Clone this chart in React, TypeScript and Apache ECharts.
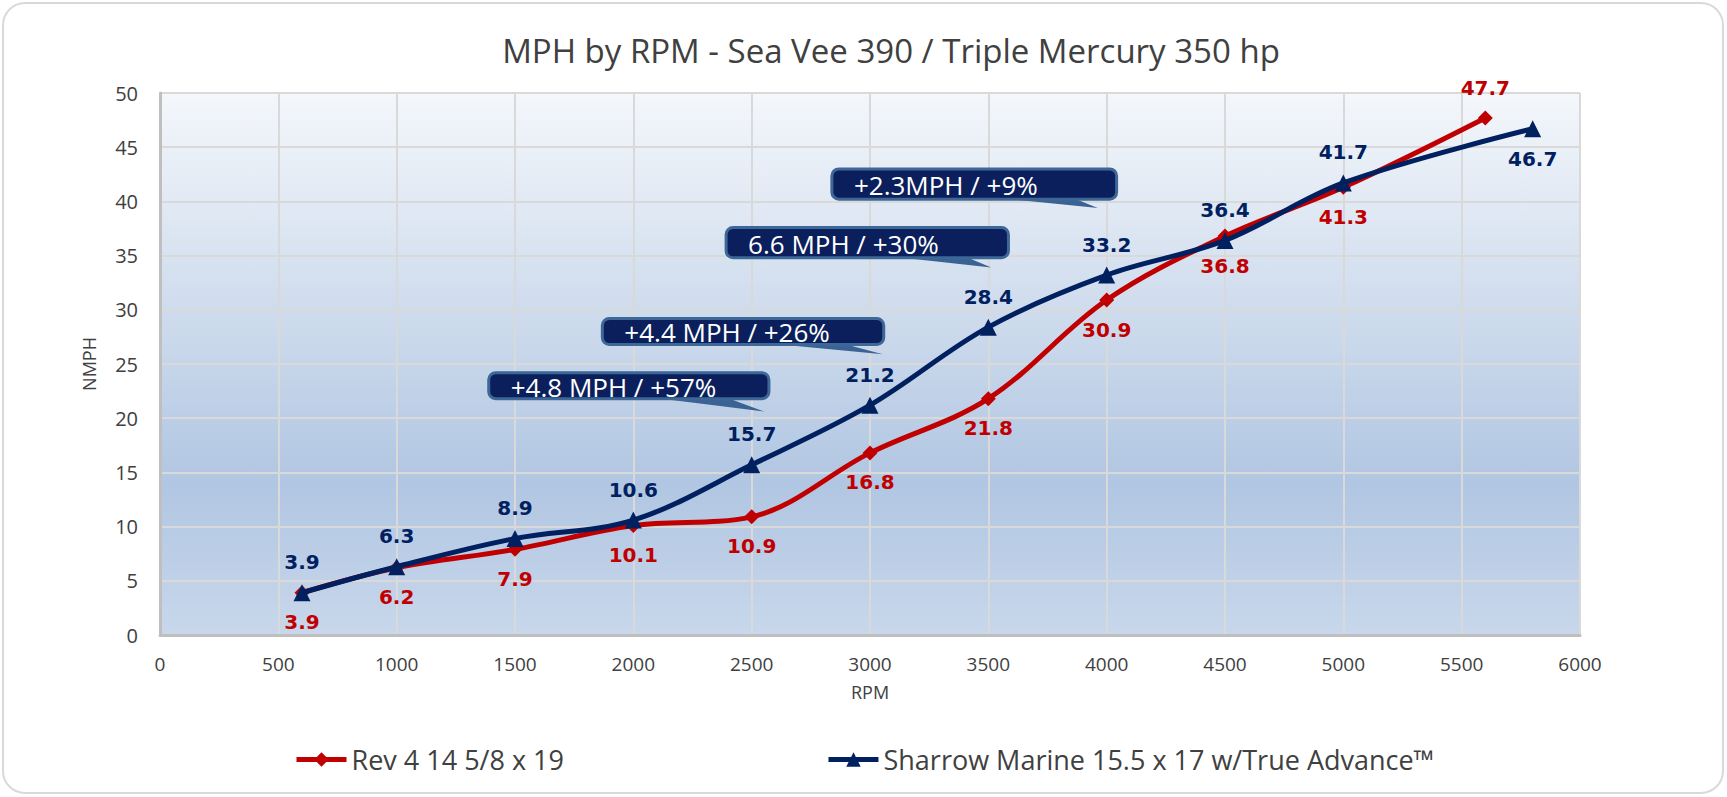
import * as echarts from "echarts";
import { useEffect, useRef } from "react";

const revName = "Rev 4 14 5/8 x 19";
const revRpm = [600, 1000, 1500, 2000, 2500, 3000, 3500, 4000, 4500, 5000, 5600];
const revMph = [3.9, 6.2, 7.9, 10.1, 10.9, 16.8, 21.8, 30.9, 36.8, 41.3, 47.7];

const sharrowName = "Sharrow Marine 15.5 x 17 w/True Advance™";
const sharrowRpm = [600, 1000, 1500, 2000, 2500, 3000, 3500, 4000, 4500, 5000, 5800];
const sharrowMph = [3.9, 6.3, 8.9, 10.6, 15.7, 21.2, 28.4, 33.2, 36.4, 41.7, 46.7];

// callout boxes in data units: [rpm left, mph top, rpm right, mph bottom], tail tip [rpm, mph]
const calloutTexts = ["+4.8 MPH / +57%", "+4.4 MPH / +26%", "6.6 MPH / +30%", "+2.3MPH / +9%"];
const calloutBoxes = [
  [1389, 24.2, 2573, 21.8],
  [1869, 29.2, 3058, 26.8],
  [2392, 37.6, 3585, 34.8],
  [2839, 43.0, 4042, 40.2],
];
const calloutTips = [
  [2555, 20.6],
  [3054, 25.9],
  [3512, 33.9],
  [3963, 39.4],
];

const RED = "#c00000";
const NAVY = "#002060";
const TEXT = "#404040";

export default function App() {
  const chartRef = useRef<HTMLDivElement | null>(null);

  useEffect(() => {
    const el = chartRef.current;
    if (!el) return;
    document.body.style.margin = "0";

    const chart = echarts.init(el, undefined, { renderer: "svg" });

    const labelFont = {
      fontFamily: "DejaVu Sans",
      fontWeight: "bold" as const,
      fontSize: 20,
    };

    const revData = revRpm.map((x, i) => ({
      value: [x, revMph[i]],
      label: { position: i === revRpm.length - 1 ? "top" : "bottom", distance: 12 },
    }));
    const sharrowData = sharrowRpm.map((x, i) => ({
      value: [x, sharrowMph[i]],
      label: { position: i === sharrowRpm.length - 1 ? "bottom" : "top", distance: 12 },
    }));

    const option: echarts.EChartsOption = {
      animation: false,
      textStyle: { fontFamily: "Open Sans" },
      grid: {
        left: 160,
        right: 147,
        top: 93,
        bottom: 162,
        show: true,
        borderWidth: 0,
        backgroundColor: {
          type: "linear",
          x: 0,
          y: 0,
          x2: 0,
          y2: 1,
          colorStops: [
            { offset: 0, color: "#f4f7fb" },
            { offset: 0.72, color: "#b1c6e2" },
            { offset: 1, color: "#c8d7eb" },
          ],
        },
      },
      xAxis: {
        type: "value",
        min: 0,
        max: 6000,
        interval: 500,
        name: "RPM",
        nameLocation: "middle",
        nameGap: 48,
        nameTextStyle: { color: TEXT, fontSize: 18 },
        axisLine: { show: true, lineStyle: { color: "#bfbfbf", width: 3 } },
        axisTick: { show: false },
        axisLabel: { color: TEXT, fontSize: 19, margin: 19, formatter: (v: number) => String(v) },
        splitLine: { show: true, lineStyle: { color: "#d9d9d9", width: 2 } },
      },
      yAxis: {
        type: "value",
        min: 0,
        max: 50,
        interval: 5,
        name: "NMPH",
        nameLocation: "middle",
        nameRotate: 90,
        nameGap: 62,
        nameTextStyle: { color: TEXT, fontSize: 18 },
        axisLine: { show: true, lineStyle: { color: "#bfbfbf", width: 3 } },
        axisTick: { show: false },
        axisLabel: { color: TEXT, fontSize: 20, margin: 22 },
        splitLine: { show: true, lineStyle: { color: "#d9d9d9", width: 2 } },
      },
      legend: {
        left: 289,
        top: 741,
        itemGap: 262,
        itemWidth: 50,
        itemHeight: 18,
        lineStyle: { width: 5 },
        textStyle: { color: TEXT, fontSize: 27, fontFamily: "Open Sans" },
        data: [revName, sharrowName],
      },
      series: [
        {
          name: revName,
          type: "line",
          smooth: 0.35,
          symbol: "diamond",
          symbolSize: 15,
          lineStyle: { color: RED, width: 5 },
          itemStyle: { color: RED },
          label: { show: true, color: RED, ...labelFont },
          data: revData as any,
          z: 3,
        },
        {
          name: sharrowName,
          type: "line",
          smooth: 0.35,
          symbol: "triangle",
          symbolSize: 17,
          lineStyle: { color: NAVY, width: 5 },
          itemStyle: { color: NAVY },
          label: { show: true, color: NAVY, ...labelFont },
          data: sharrowData as any,
          z: 4,
        },
      ],
    };

    chart.setOption(option);

    const px = (p: number[]) => chart.convertToPixel({ gridIndex: 0 }, p) as number[];

    const callouts = calloutTexts.map((text, i) => {
      const b = calloutBoxes[i];
      const tl = px([b[0], b[1]]);
      const br = px([b[2], b[3]]);
      const tip = px(calloutTips[i]);
      const w = br[0] - tl[0];
      const h = br[1] - tl[1];
      return {
        type: "group",
        z: 20,
        children: [
          {
            type: "polygon",
            shape: {
              points: [
                [tl[0] + w * 0.56, br[1] - 2],
                [tip[0], tip[1]],
                [tl[0] + w * 0.84, br[1] - 2],
              ],
            },
            style: { fill: "#3a6393" },
          },
          {
            type: "rect",
            shape: { x: tl[0], y: tl[1], width: w, height: h, r: 7 },
            style: { fill: "#0b1f5c", stroke: "#3d6796", lineWidth: 3 },
          },
          {
            type: "text",
            x: tl[0] + 22,
            y: tl[1] + h / 2 + 1,
            style: {
              text,
              fill: "#ffffff",
              fontSize: 26,
              fontFamily: "Open Sans",
              verticalAlign: "middle",
              align: "left",
            },
          },
        ],
      };
    });

    chart.setOption({
      graphic: [
        {
          type: "rect",
          z: -10,
          silent: true,
          shape: { x: 3, y: 3, width: 1720, height: 790, r: 22 },
          style: { fill: "#ffffff", stroke: "#d9d9d9", lineWidth: 2 },
        },
        {
          type: "text",
          x: 891,
          y: 50,
          style: {
            text: "MPH by RPM - Sea Vee 390 / Triple Mercury 350 hp",
            fill: TEXT,
            fontSize: 33,
            fontFamily: "Open Sans",
            align: "center",
            verticalAlign: "middle",
          },
        },
        ...callouts,
      ] as any,
    });

    return () => {
      if (!chart.isDisposed()) chart.dispose();
    };
  }, []);

  return <div ref={chartRef} style={{ width: 1727, height: 797 }} />;
}
